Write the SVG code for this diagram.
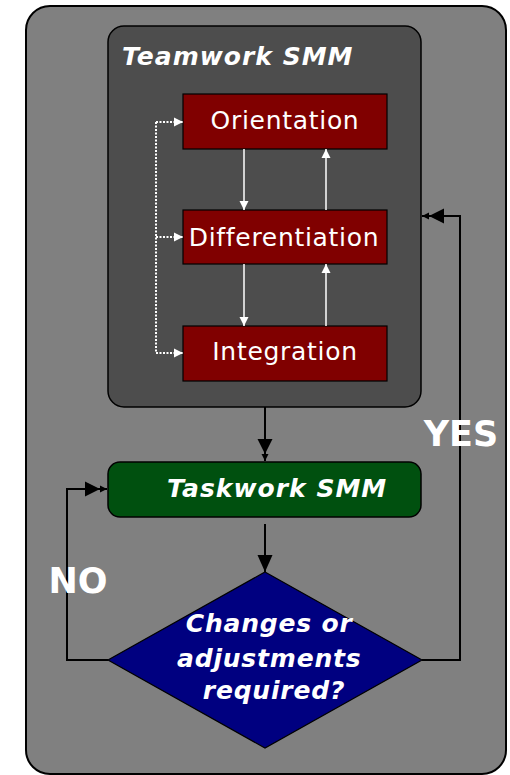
<svg xmlns="http://www.w3.org/2000/svg" width="510" height="775" viewBox="0 0 510 775">
  <style>
    .lbl { font-family: "DejaVu Sans", Verdana, sans-serif; fill: #fff; }
    .bi { font-weight: bold; font-style: italic; }
    .stage { font-size: 25px; letter-spacing: 0.7px; }
    .step { fill: #800000; stroke: #000; stroke-width: 1.2; }
    .wline { stroke: #fff; stroke-width: 1.5; fill: none; }
    .dot { stroke: #fff; stroke-width: 2; stroke-dasharray: 2 1.5; fill: none; }
    .bline { stroke: #000; stroke-width: 2; fill: none; }
  </style>
  <defs>
    <marker id="wa" markerUnits="userSpaceOnUse" markerWidth="10" markerHeight="10" refX="9" refY="5" orient="auto">
      <path d="M0,0.5 L9,5 L0,9.5 Z" fill="#fff"/>
    </marker>
    <marker id="ba" markerUnits="userSpaceOnUse" markerWidth="18" markerHeight="16" refX="17" refY="8" orient="auto">
      <path d="M0,0.5 L17,8 L0,15.5 Z" fill="#000"/>
    </marker>
    <marker id="bb" markerUnits="userSpaceOnUse" markerWidth="24" markerHeight="16" refX="23" refY="8" orient="auto">
      <path d="M1,0.5 L16,8 L1,15.5 Z" fill="#000"/>
      <path d="M16,4.5 L23,8 L16,11.5 Z" fill="#000"/>
    </marker>
  </defs>

  <!-- outer frame -->
  <rect id="frame" x="26" y="6" width="480" height="768" rx="24" fill="#808080" stroke="#000" stroke-width="2"/>

  <g id="teamwork">
    <rect x="108" y="26" width="313" height="381" rx="16" fill="#4d4d4d" stroke="#000" stroke-width="1.5"/>
    <text class="lbl bi" x="122" y="65" font-size="25" letter-spacing="1">Teamwork SMM</text>
  </g>

  <g id="orientation">
    <rect class="step" x="183" y="94" width="204" height="55"/>
    <text class="lbl stage" x="285" y="129" text-anchor="middle">Orientation</text>
  </g>

  <g id="differentiation">
    <rect class="step" x="183" y="210" width="204" height="54"/>
    <text class="lbl stage" x="284" y="246" text-anchor="middle">Differentiation</text>
  </g>

  <g id="integration">
    <rect class="step" x="183" y="326" width="204" height="55"/>
    <text class="lbl stage" x="285" y="360" text-anchor="middle">Integration</text>
  </g>

  <g id="taskwork">
    <rect x="108" y="462" width="313" height="55" rx="12" fill="#00500f" stroke="#000" stroke-width="1.5"/>
    <text class="lbl bi" x="167" y="497" font-size="25" letter-spacing="1">Taskwork SMM</text>
  </g>

  <g id="decision">
    <polygon points="265,572 422,660 265,748 108,660" fill="#000080" stroke="#000" stroke-width="1.2"/>
    <text class="lbl bi" font-size="25" text-anchor="middle" letter-spacing="0.8">
      <tspan x="274" y="632">Changes or</tspan>
      <tspan x="274" y="667">adjustments</tspan>
      <tspan x="274" y="699">required?</tspan>
    </text>
  </g>

  <g id="connectors">
    <!-- feedback between stages -->
    <line class="wline" x1="244" y1="149" x2="244" y2="210" marker-end="url(#wa)"/>
    <line class="wline" x1="326" y1="210" x2="326" y2="149" marker-end="url(#wa)"/>
    <line class="wline" x1="244" y1="264" x2="244" y2="326" marker-end="url(#wa)"/>
    <line class="wline" x1="326" y1="326" x2="326" y2="264" marker-end="url(#wa)"/>
    <!-- dotted entry bus -->
    <line class="dot" x1="156" y1="122" x2="156" y2="353"/>
    <line class="dot" x1="156" y1="122" x2="183" y2="122" marker-end="url(#wa)"/>
    <line class="dot" x1="156" y1="237" x2="183" y2="237" marker-end="url(#wa)"/>
    <line class="dot" x1="156" y1="353" x2="183" y2="353" marker-end="url(#wa)"/>
    <!-- main flow -->
    <line class="bline" x1="265" y1="407" x2="265" y2="461" marker-end="url(#bb)"/>
    <line class="bline" x1="265" y1="524" x2="265" y2="572" marker-end="url(#ba)"/>
    <polyline class="bline" points="108,660 67,660 67,489 107,489" marker-end="url(#bb)"/>
    <polyline class="bline" points="422,660 460,660 460,216 422,216" marker-end="url(#bb)"/>
  </g>

  <text class="lbl" x="461" y="446" font-size="35" font-weight="bold" text-anchor="middle">YES</text>
  <text class="lbl" x="78" y="593" font-size="35" font-weight="bold" text-anchor="middle">NO</text>
</svg>
